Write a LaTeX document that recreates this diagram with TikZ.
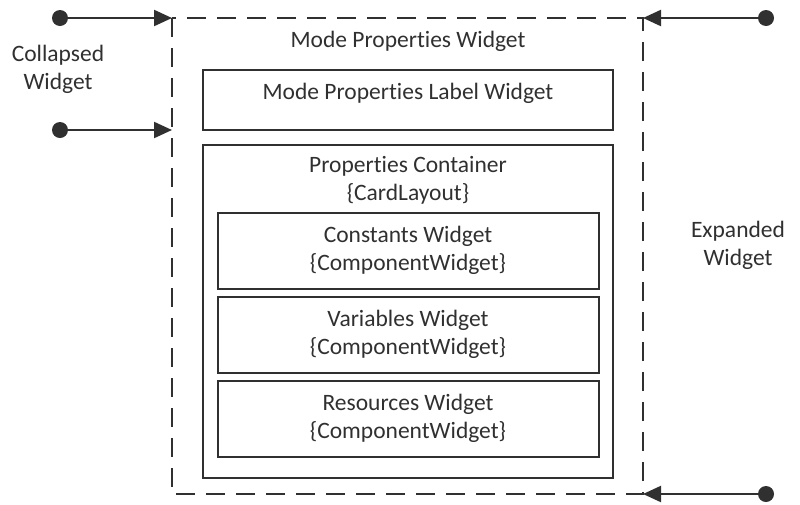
\documentclass[tikz,border=0pt]{standalone}
\usepackage{fontspec}
\setmainfont{Carlito}[Ligatures=NoCommon]
\usetikzlibrary{arrows.meta}
\definecolor{ink}{HTML}{303030}
\begin{document}
\begin{tikzpicture}[x=1pt,y=-1pt,
  box/.style={draw=ink,line width=2.4pt},
  frame/.style={draw=ink,line width=2.4pt,dash pattern=on 19pt off 11pt},
  lbl/.style={text=ink,font=\fontsize{23.5}{28}\selectfont,align=center,inner sep=0pt},
  dot/.style={circle,fill=ink,minimum size=16pt,inner sep=0pt},
  link/.style={draw=ink,line width=2.2pt,-{Triangle[length=18pt,width=16pt]}}]
\useasboundingbox (0,0) rectangle (800,504);
% outer dashed frame
\draw[frame] (172,18) rectangle (643,494);
\node[lbl] (title) at (408,41) {Mode Properties Widget};
% label widget
\draw[box] (203,70) rectangle (613,130);
\node[lbl] (labelw) at (408,93) {Mode Properties Label Widget};
% properties container
\draw[box] (203,145) rectangle (613,478);
\node[lbl] (cont) at (408,180) {Properties Container\\\{CardLayout\}};
% component widgets
\draw[box] (218,213) rectangle (599,289);
\node[lbl] (consts) at (408,250) {Constants Widget\\\{ComponentWidget\}};
\draw[box] (218,297) rectangle (599,373);
\node[lbl] (vars) at (408,334) {Variables Widget\\\{ComponentWidget\}};
\draw[box] (218,381) rectangle (599,457);
\node[lbl] (res) at (408,418) {Resources Widget\\\{ComponentWidget\}};
% side labels
\node[lbl] (coll) at (58,69) {Collapsed\\Widget};
\node[lbl] (exp) at (738,245) {Expanded\\Widget};
% connectors
\node[dot] (d1) at (60,18) {};
\node[dot] (d2) at (60,130) {};
\node[dot] (d3) at (766,18) {};
\node[dot] (d4) at (766,494) {};
\coordinate (e1) at (172,18);
\coordinate (e2) at (172,130);
\coordinate (e3) at (643,18);
\coordinate (e4) at (643,494);
\draw[link] (d1) -- (e1);
\draw[link] (d2) -- (e2);
\draw[link] (d3) -- (e3);
\draw[link] (d4) -- (e4);
\end{tikzpicture}
\end{document}
